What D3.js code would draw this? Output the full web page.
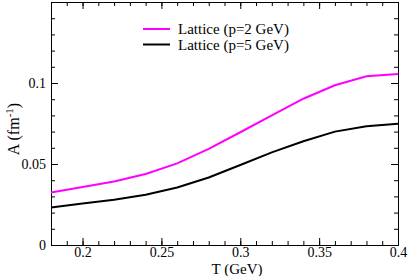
<!DOCTYPE html>
<html>
<head>
<meta charset="utf-8">
<script src="https://cdn.jsdelivr.net/npm/d3@7"></script>
<style>
  body { margin: 0; background: #fff; }
  text { font-family: "Liberation Serif", "Times New Roman", serif; fill: #000; }
</style>
</head>
<body>
<div id="chart"></div>
<script>
var temps = [0.18, 0.20, 0.22, 0.24, 0.26, 0.28, 0.30, 0.32, 0.34, 0.36, 0.38, 0.40];
var p2 = [0.0324, 0.0358, 0.0392, 0.0438, 0.0504, 0.0593, 0.0696, 0.0800, 0.0903, 0.0986, 0.1042, 0.1056];
var p5 = [0.0231, 0.0256, 0.0279, 0.0310, 0.0355, 0.0417, 0.0494, 0.0572, 0.0640, 0.0700, 0.0733, 0.0748];
var xTicks = [0.2, 0.25, 0.3, 0.35, 0.4];
var yTicks = [0, 0.05, 0.1];
var series = [
    { name: "Lattice (p=2 GeV)", values: p2, color: "#ff00ff" },
    { name: "Lattice (p=5 GeV)", values: p5, color: "#000000" }
];

var W = 409, H = 276;
var margin = { top: 2, right: 11, bottom: 31, left: 51 };
var width = W - margin.left - margin.right;
var height = H - margin.top - margin.bottom;

var svg = d3.select("#chart").append("svg")
    .attr("width", W)
    .attr("height", H);

var g = svg.append("g")
    .attr("transform", "translate(" + margin.left + "," + margin.top + ")");

var x = d3.scaleLinear().domain([0.18, 0.4]).range([0, width]);
var y = d3.scaleLinear().domain([0, 0.15]).range([height, 0]);

var minorX = d3.range(0.18, 0.4001, 0.01);
var minorY = d3.range(0, 0.1501, 0.01);
var fmt = function (d) { return d3.format("")(+d.toFixed(2)); };
var noLab = function () { return ""; };

// ticks on all four sides, pointing inward
function ticks(axis, scale, vals, size, f) {
    return axis(scale).tickValues(vals).tickSizeInner(-size).tickSizeOuter(0).tickFormat(f);
}

var bottom = g.append("g").attr("transform", "translate(0," + height + ")");
bottom.append("g").call(ticks(d3.axisBottom, x, minorX, 4, noLab));
var bLab = bottom.append("g").call(ticks(d3.axisBottom, x, xTicks, 7, fmt));
bLab.selectAll("text").attr("y", 2);

g.append("g").call(ticks(d3.axisTop, x, minorX, 4, noLab));
g.append("g").call(ticks(d3.axisTop, x, xTicks, 7, noLab));

g.append("g").call(ticks(d3.axisLeft, y, minorY, 4, noLab));
var lLab = g.append("g").call(ticks(d3.axisLeft, y, yTicks, 7, fmt));
lLab.selectAll("text").attr("x", -5);

var right = g.append("g").attr("transform", "translate(" + width + ",0)");
right.append("g").call(ticks(d3.axisRight, y, minorY, 4, noLab));
right.append("g").call(ticks(d3.axisRight, y, yTicks, 7, noLab));

g.selectAll(".domain").attr("stroke", "#000").attr("stroke-width", 1);
g.selectAll(".tick line").attr("stroke", "#000").attr("stroke-width", 1);
g.selectAll(".tick text").attr("fill", "#000")
    .attr("font-family", null).attr("font-size", null)
    .style("font-size", "14px");

var line = d3.line()
    .x(function (d, i) { return x(temps[i]); })
    .y(function (d) { return y(d); });

series.forEach(function (s) {
    g.append("path")
        .datum(s.values)
        .attr("fill", "none")
        .attr("stroke", s.color)
        .attr("stroke-width", 2)
        .attr("d", line);
});

// legend
var leg = svg.append("g");
series.forEach(function (s, i) {
    var yy = 29 + i * 15.5;
    leg.append("line")
        .attr("x1", 143).attr("x2", 170)
        .attr("y1", yy).attr("y2", yy)
        .attr("stroke", s.color).attr("stroke-width", 2);
    leg.append("text")
        .attr("x", 178).attr("y", yy + 5)
        .style("font-size", "15px")
        .text(s.name);
});

// axis titles
svg.append("text")
    .attr("x", 237).attr("y", 274)
    .attr("text-anchor", "middle")
    .style("font-size", "15px")
    .text("T (GeV)");

var yl = svg.append("text")
    .attr("transform", "translate(19,129) rotate(-90)")
    .attr("text-anchor", "middle")
    .style("font-size", "16px");
yl.append("tspan").text("A (fm");
yl.append("tspan").attr("dy", -6).style("font-size", "11px").text("-1");
yl.append("tspan").attr("dy", 6).text(")");
</script>
</body>
</html>
